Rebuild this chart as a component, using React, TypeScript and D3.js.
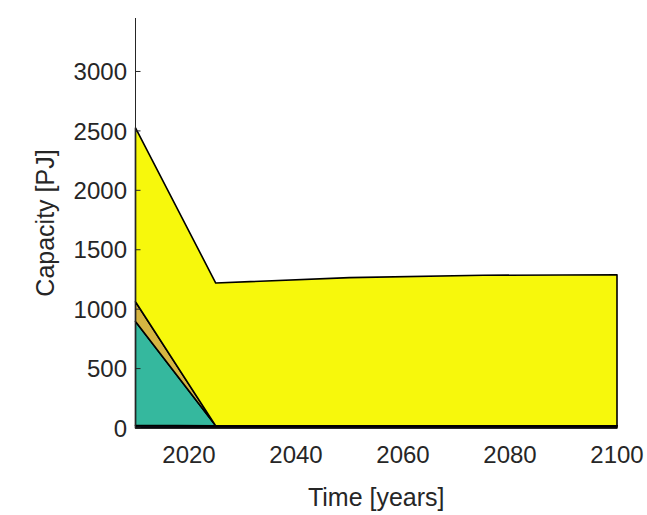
import React from 'react'
import * as d3 from 'd3'

// values
const years = [2010, 2025, 2050, 2075, 2100]
const darkLayer = [22, 18, 18, 18, 18]
const tealLayer = [875, 0, 0, 0, 0]
const tanLayer = [165, 0, 0, 0, 0]
const yellowLayer = [1463, 1202, 1247, 1267, 1272]

const seriesKeys = ['dark', 'teal', 'tan', 'yellow']
const seriesColors = ['#1c1a3a', '#35b89e', '#d6b542', '#f7f80c']

const yTicks = [0, 500, 1000, 1500, 2000, 2500, 3000]
const xTicks = [2020, 2040, 2060, 2080, 2100]

const W = 647
const H = 515
const margin = { left: 135.5, right: 30, top: 18, bottom: 87 }
const textCol = '#262626'
const font = '"Liberation Sans", Arial, Helvetica, sans-serif'

export default function App() {
  const rows = years.map((yr, i) => ({
    year: yr,
    dark: darkLayer[i],
    teal: tealLayer[i],
    tan: tanLayer[i],
    yellow: yellowLayer[i],
  }))

  const x = d3.scaleLinear().domain([2010, 2100]).range([margin.left, W - margin.right])
  const y = d3.scaleLinear().domain([0, 3450]).range([H - margin.bottom, margin.top])

  const stacked = d3.stack<any>().keys(seriesKeys)(rows)
  const area = d3.area<any>()
    .x(d => x(d.data.year))
    .y0(d => y(d[0]))
    .y1(d => y(d[1]))

  const y0 = y(0)

  return (
    <svg width={W} height={H} style={{ position: 'absolute', left: 0, top: 0, background: '#fff' }}>
      {stacked.map((s, i) => (
        <path key={s.key} d={area(s) || ''} fill={seriesColors[i]}
          stroke="#000" strokeWidth={1.6} strokeLinejoin="round" />
      ))}

      {/* axes */}
      <line x1={margin.left} x2={margin.left} y1={margin.top} y2={y0} stroke={textCol} strokeWidth={1} />
      <line x1={margin.left} x2={x(2100)} y1={y0 + 0.5} y2={y0 + 0.5} stroke={textCol} strokeWidth={1} />
      {yTicks.map(t => (
        <g key={t}>
          <line x1={margin.left} x2={margin.left + 5} y1={y(t)} y2={y(t)} stroke={textCol} />
          <text x={127} y={y(t)} dy="0.36em" textAnchor="end" fontFamily={font} fontSize={24} fill={textCol}>{t}</text>
        </g>
      ))}
      {xTicks.map(t => (
        <text key={t} x={x(t)} y={463} textAnchor="middle" fontFamily={font} fontSize={24} fill={textCol}>{t}</text>
      ))}

      <text x={(margin.left + x(2100)) / 2} y={506} textAnchor="middle" fontFamily={font} fontSize={25} fill={textCol}>Time [years]</text>
      <text transform={`translate(54,${(margin.top + y0) / 2}) rotate(-90)`} textAnchor="middle"
        fontFamily={font} fontSize={25} fill={textCol}>Capacity [PJ]</text>
    </svg>
  )
}
